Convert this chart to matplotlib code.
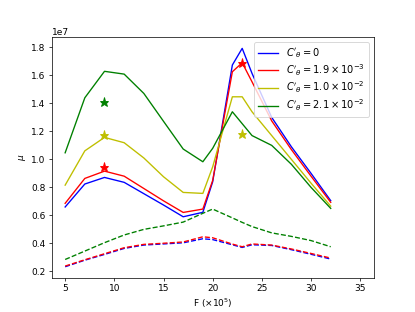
import matplotlib
matplotlib.use('Agg')
import matplotlib.pyplot as plt

F = [5, 7, 9, 11, 13, 15, 17, 19, 20, 22, 23, 24, 26, 28, 30, 32]

# solid curves (x1e7)
mu_0 = [0.66, 0.824, 0.871, 0.836, 0.755, 0.674, 0.59, 0.622, 0.84, 1.674, 1.793, 1.614, 1.30, 1.09, 0.90, 0.705]
mu_1 = [0.686, 0.864, 0.916, 0.88, 0.792, 0.704, 0.621, 0.645, 0.85, 1.626, 1.69, 1.554, 1.275, 1.07, 0.88, 0.693]
mu_2 = [0.816, 1.061, 1.157, 1.119, 1.01, 0.876, 0.764, 0.757, 0.947, 1.447, 1.447, 1.34, 1.17, 1.00, 0.83, 0.666]
mu_3 = [1.047, 1.44, 1.629, 1.609, 1.471, 1.272, 1.074, 0.983, 1.079, 1.34, 1.255, 1.17, 1.10, 0.965, 0.80, 0.65]

# dashed curves (x1e7)
mu_0d = [0.233, 0.28, 0.321, 0.364, 0.388, 0.396, 0.404, 0.433, 0.427, 0.39, 0.371, 0.39, 0.385, 0.355, 0.322, 0.288]
mu_1d = [0.238, 0.283, 0.326, 0.369, 0.393, 0.401, 0.41, 0.447, 0.44, 0.395, 0.376, 0.396, 0.388, 0.36, 0.328, 0.295]
mu_3d = [0.285, 0.345, 0.405, 0.46, 0.50, 0.525, 0.552, 0.615, 0.645, 0.582, 0.55, 0.52, 0.475, 0.45, 0.42, 0.376]

# stars
star_F = [9, 9, 9, 23, 23]
star_mu = [0.943, 1.174, 1.407, 1.69, 1.181]
star_c = ['r', 'y', 'g', 'r', 'y']

labels = [r"$C'_\theta=0$", r"$C'_\theta=1.9\times10^{-3}$",
          r"$C'_\theta=1.0\times10^{-2}$", r"$C'_\theta=2.1\times10^{-2}$"]

e7 = 1e7
fig, ax = plt.subplots(figsize=(415/65, 312/65), dpi=65)

ax.plot(F, [v*e7 for v in mu_0], 'b', label=labels[0])
ax.plot(F, [v*e7 for v in mu_1], 'r', label=labels[1])
ax.plot(F, [v*e7 for v in mu_2], 'y', label=labels[2])
ax.plot(F, [v*e7 for v in mu_3], 'g', label=labels[3])

ax.plot(F, [v*e7 for v in mu_0d], 'b--')
ax.plot(F, [v*e7 for v in mu_1d], 'r--')
ax.plot(F, [v*e7 for v in mu_3d], 'g--')

for f, m, c in zip(star_F, star_mu, star_c):
    ax.plot(f, m*e7, '*', color=c, markersize=10)

ax.set_xlim(3.65, 36.35)
ax.set_xlabel(r'F ($\times 10^5$)')
ax.set_ylabel(r'$\mu$')
ax.legend(loc='upper right', fontsize=11, labelspacing=0.2)

fig.savefig('out.png', dpi=65)
